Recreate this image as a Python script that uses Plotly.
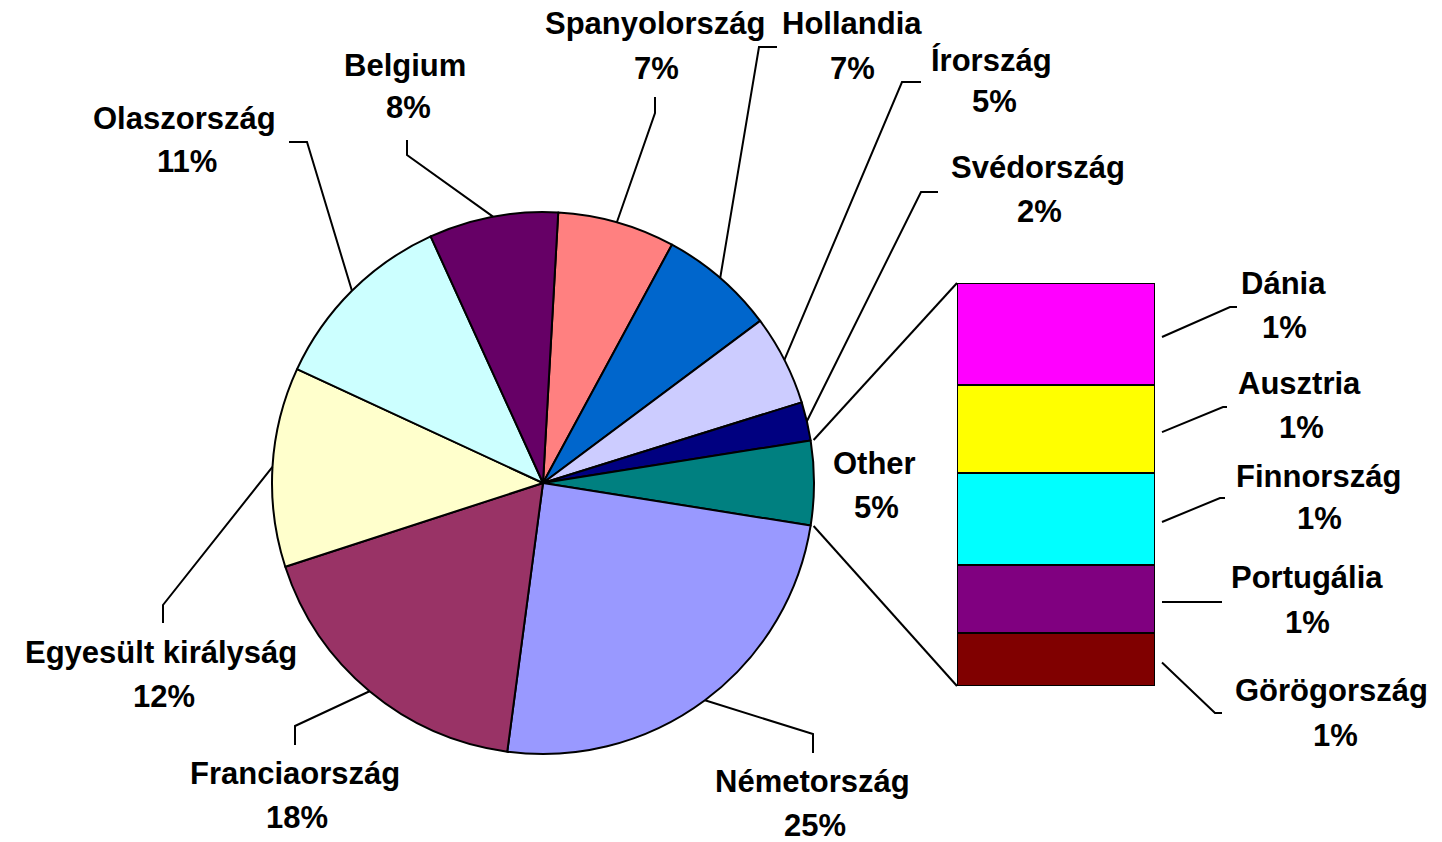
import math
import plotly.graph_objects as go

# ---------------- data ----------------
main_labels = ["Spanyolország", "Hollandia", "Írország", "Svédország",
               "Németország", "Franciaország", "Egyesült királyság",
               "Olaszország", "Belgium"]
main_values = [7.0, 6.9, 5.4, 2.3, 24.6, 17.9, 11.9, 11.3, 7.7]

other_label = "Other"
other_labels = ["Dánia", "Ausztria", "Finnország", "Portugália", "Görögország"]
other_values = [1.27, 1.10, 1.14, 0.85, 0.66]

# ---------------- styles ----------------
main_colors = ["#FF8080", "#0066CC", "#CCCCFF", "#000080",
               "#9999FF", "#993366", "#FFFFCC", "#CCFFFF", "#660066"]
other_slice_color = "#008080"
other_colors = ["#FF00FF", "#FFFF00", "#00FFFF", "#800080", "#800000"]

W, H = 1442, 842
CX, CY, R = 543, 483, 271            # pie geometry (px)
BAR_L, BAR_R, BAR_T, BAR_B = 957, 1155, 283, 686   # bar geometry (px)
FONT = "Liberation Sans, Arial, sans-serif"
FS = 31
LW = 2

# label layout: name centre, pct centre, leader elbow, leader end (px)
LABEL_POS = {
    "Spanyolország": ((655, 24), (656, 69), (655, 113), (655, 97)),
    "Hollandia": ((852, 24), (853, 68), (759, 47), (777, 47)),
    "Írország": ((991, 60), (994, 102), (902, 82), (921, 82)),
    "Svédország": ((1038, 167), (1039, 212), (921, 192), (938, 192)),
    "Other": ((875, 463), (877, 507), None, None),
    "Németország": ((812, 781), (815, 825), (813, 734), (813, 753)),
    "Franciaország": ((295, 773), (297, 817), (295, 726), (295, 745)),
    "Egyesült királyság": ((161, 652), (164, 696), (163, 605), (163, 623)),
    "Olaszország": ((184, 118), (187, 162), (307, 142), (289, 142)),
    "Belgium": ((405, 65), (408, 108), (407, 155), (407, 140)),
    "Dánia": ((1283, 283), (1284, 327), (1230, 307), (1237, 307)),
    "Ausztria": ((1299, 383), (1301, 427), (1223, 407), (1227, 407)),
    "Finnország": ((1318, 476), (1319, 518), (1220, 498), (1225, 498)),
    "Portugália": ((1307, 577), (1307, 622), (1222, 602), (1222, 602)),
    "Görögország": ((1331, 690), (1335, 735), (1215, 713), (1222, 713)),
}


def px(x):
    return x / W


def py(y):
    return 1 - y / H


# ---------------- assemble pie ----------------
other_total = sum(other_values)
insert_at = 4
pie_labels = main_labels[:insert_at] + [other_label] + main_labels[insert_at:]
pie_values = main_values[:insert_at] + [other_total] + main_values[insert_at:]
pie_colors = main_colors[:insert_at] + [other_slice_color] + main_colors[insert_at:]
total = sum(pie_values)

cum_before_other = sum(pie_values[:insert_at])
rotation = 90 - (cum_before_other + other_total / 2) / total * 360

fig = go.Figure()
fig.add_trace(go.Pie(
    labels=pie_labels, values=pie_values, sort=False, direction="clockwise",
    rotation=rotation, textinfo="none", showlegend=False,
    marker=dict(colors=pie_colors, line=dict(color="black", width=LW)),
    domain=dict(x=[px(CX - R), px(CX + R)], y=[py(CY + R), py(CY - R)]),
))

# ---------------- stacked bar ("Other" breakdown) ----------------
for lab, val, col in reversed(list(zip(other_labels, other_values, other_colors))):
    fig.add_trace(go.Bar(
        x=[0], y=[val], width=1, name=lab, showlegend=False, cliponaxis=False,
        marker=dict(color=col, line=dict(color="black", width=LW)),
        xaxis="x", yaxis="y",
    ))

shapes = []
annotations = []


def angle_point(deg, r):
    a = math.radians(deg)
    return CX + r * math.sin(a), CY - r * math.cos(a)


def add_label(name, pct):
    (nx, ny), (qx, qy), _, _ = LABEL_POS[name]
    for t, (x, y) in ((name, (nx, ny)), (pct, (qx, qy))):
        annotations.append(dict(
            x=px(x), y=py(y), xref="paper", yref="paper", text="<b>%s</b>" % t,
            showarrow=False, xanchor="center", yanchor="middle",
            font=dict(family=FONT, size=FS, color="black")))


def add_leader(name, start):
    _, _, elbow, end = LABEL_POS[name]
    if elbow is None:
        return
    path = "M %f,%f L %f,%f L %f,%f" % (px(start[0]), py(start[1]),
                                        px(elbow[0]), py(elbow[1]),
                                        px(end[0]), py(end[1]))
    shapes.append(dict(type="path", path=path, xref="paper", yref="paper",
                       line=dict(color="black", width=LW)))


# pie labels + leaders
cum = 0.0
for lab, val in zip(pie_labels, pie_values):
    a0 = rotation + cum / total * 360
    a1 = rotation + (cum + val) / total * 360
    cum += val
    pct = "%d%%" % round(val / total * 100)
    add_label(lab, pct)
    if lab != other_label:
        add_leader(lab, angle_point((a0 + a1) / 2, R))
    else:
        p0 = angle_point(a0, R + 3)
        p1 = angle_point(a1, R + 3)
        for (sx, sy), (ex, ey) in ((p0, (BAR_L, BAR_T)), (p1, (BAR_L, BAR_B))):
            shapes.append(dict(type="line", xref="paper", yref="paper",
                               x0=px(sx), y0=py(sy), x1=px(ex), y1=py(ey),
                               line=dict(color="black", width=LW)))

# bar labels + leaders
top_val = other_total
for lab, val in zip(other_labels, other_values):
    y_top = BAR_T + (other_total - top_val) / other_total * (BAR_B - BAR_T)
    y_bot = BAR_T + (other_total - top_val + val) / other_total * (BAR_B - BAR_T)
    top_val -= val
    pct = "%d%%" % round(val / total * 100)
    add_label(lab, pct)
    add_leader(lab, (BAR_R + 7, (y_top + y_bot) / 2 + 3))

fig.update_layout(
    width=W, height=H, margin=dict(l=0, r=0, t=0, b=0),
    paper_bgcolor="white", plot_bgcolor="white",
    barmode="stack", bargap=0,
    xaxis=dict(domain=[px(BAR_L), px(BAR_R)], range=[-0.5, 0.5], visible=False,
               fixedrange=True),
    yaxis=dict(domain=[py(BAR_B), py(BAR_T)], range=[0, other_total], visible=False,
               fixedrange=True),
    shapes=shapes, annotations=annotations,
)

fig.write_html("out.html", config={"displayModeBar": False},
               post_script="document.body.style.margin='0';document.body.style.overflow='hidden';")
